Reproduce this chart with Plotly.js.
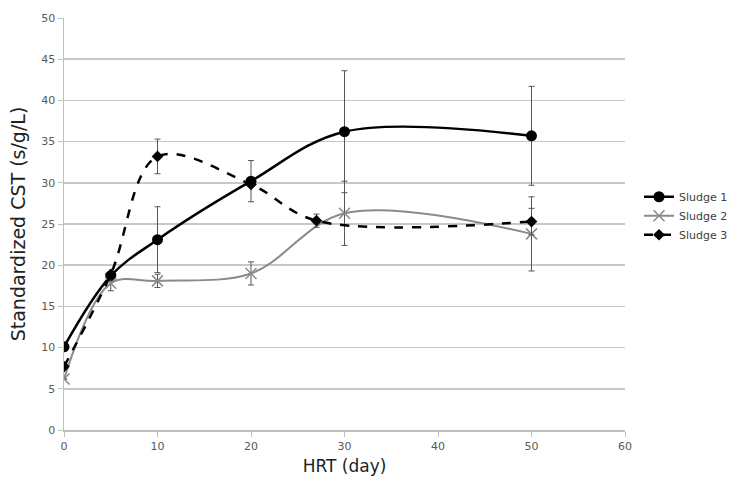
<!DOCTYPE html>
<html>
<head>
<meta charset="utf-8">
<script src="https://cdn.plot.ly/plotly-3.0.1.min.js"></script>
<style>html,body{margin:0;padding:0;background:#fff;}#chart{width:745px;height:484px;}</style>
</head>
<body>
<div id="chart"></div>
<script>
const s1x = [0, 5, 10, 20, 30, 50];
const s1y = [10.1, 18.7, 23.1, 30.2, 36.2, 35.7];
const s1e = [0, 0, 4.0, 2.5, 7.4, 6.0];

const s2x = [0, 5, 10, 20, 30, 50];
const s2y = [6.2, 17.8, 18.1, 19.0, 26.3, 23.8];
const s2e = [0, 0.9, 0.8, 1.4, 3.9, 4.5];

const s3x = [0, 5, 10, 20, 27, 50];
const s3y = [7.7, 18.9, 33.2, 29.8, 25.4, 25.3];
const s3e = [0, 0, 2.1, 0, 0.8, 1.6];

const names = ['Sludge 1', 'Sludge 2', 'Sludge 3'];
const xTicks = [0, 10, 20, 30, 40, 50, 60];
const yTicks = [0, 5, 10, 15, 20, 25, 30, 35, 40, 45, 50];

const eb = (arr) => ({type: 'data', array: arr, visible: true, color: '#555', thickness: 1, width: 3});

const traces = [
  {x: s1x, y: s1y, name: names[0], mode: 'lines+markers', error_y: eb(s1e),
   line: {color: '#000', width: 2.5, shape: 'spline', smoothing: 1},
   marker: {symbol: 'circle', size: 11, color: '#000'}},
  {x: s2x, y: s2y, name: names[1], mode: 'lines+markers', error_y: eb(s2e),
   line: {color: '#8a8a8a', width: 2, shape: 'spline', smoothing: 1},
   marker: {symbol: 'x-thin-open', size: 11, color: '#8a8a8a', line: {color: '#8a8a8a', width: 1.5}}},
  {x: s3x, y: s3y, name: names[2], mode: 'lines+markers', error_y: eb(s3e),
   line: {color: '#000', width: 2.5, dash: 'dash', shape: 'spline', smoothing: 1},
   marker: {symbol: 'diamond', size: 9, color: '#000'}}
];

const tickFont = {family: 'DejaVu Sans, Verdana, sans-serif', size: 11, color: '#595959'};

const layout = {
  width: 745, height: 484,
  margin: {l: 64, r: 109, t: 18, b: 54},
  paper_bgcolor: '#fff', plot_bgcolor: '#fff',
  showlegend: true,
  legend: {x: 1.025, y: 0.52, xanchor: 'left', yanchor: 'middle',
           font: {family: 'DejaVu Sans, Verdana, sans-serif', size: 11, color: '#404040'},
           tracegroupgap: 0, itemwidth: 30},
  xaxis: {
    range: [0, 60], tickvals: xTicks, ticktext: xTicks.map(String),
    showgrid: false, zeroline: false,
    showline: true, linecolor: '#bfbfbf', linewidth: 1.5,
    ticks: 'outside', ticklen: 5, tickcolor: '#bfbfbf',
    tickfont: tickFont,
    title: {text: 'HRT (day)', font: {family: 'DejaVu Sans, Verdana, sans-serif', size: 17, color: '#222'}, standoff: 8}
  },
  yaxis: {
    range: [0, 50], tickvals: yTicks, ticktext: yTicks.map(String),
    showgrid: true, gridcolor: '#c8c8c8', gridwidth: 1.5,
    zeroline: false, showline: true, linecolor: '#bfbfbf', linewidth: 1.5,
    ticks: 'outside', ticklen: 5, tickcolor: '#bfbfbf',
    tickfont: tickFont,
    title: {text: 'Standardized CST (s/g/L)', font: {family: 'DejaVu Sans, Verdana, sans-serif', size: 19, color: '#222'}, standoff: 10}
  }
};

Plotly.newPlot('chart', traces, layout, {displayModeBar: false, staticPlot: true});
</script>
</body>
</html>
